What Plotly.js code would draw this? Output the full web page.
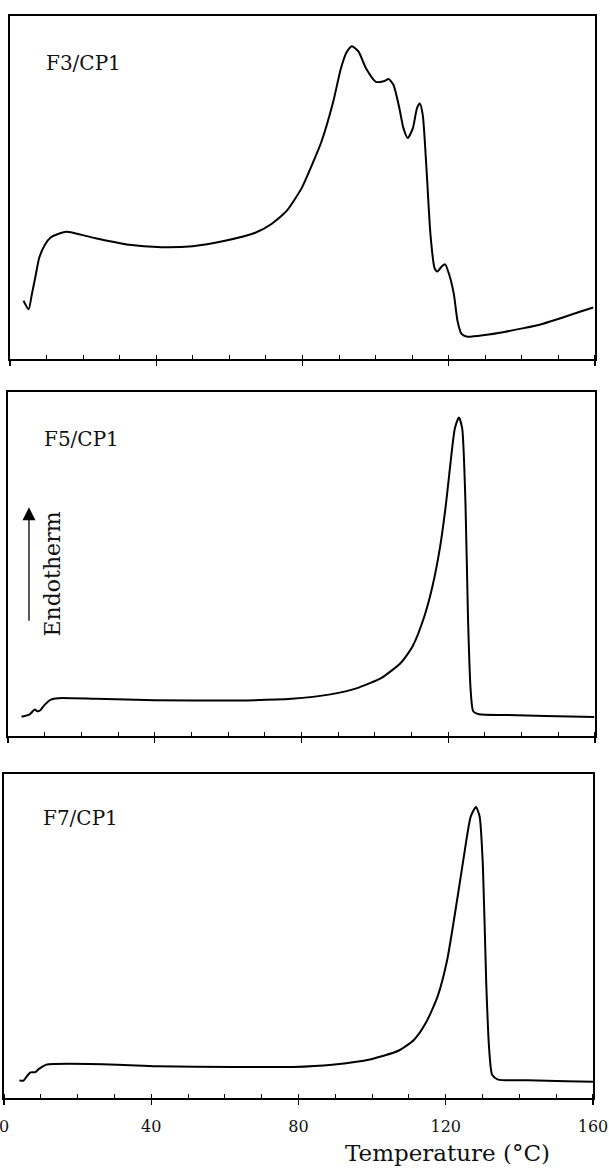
<!DOCTYPE html>
<html>
<head>
<meta charset="utf-8">
<script src="https://cdn.plot.ly/plotly-3.0.1.min.js"></script>
<style>html,body{margin:0;padding:0;background:#fff;}#chart{width:609px;height:1169px;}</style>
</head>
<body>
<div id="chart"></div>
<script>
// Temperature (°C) and relative heat-flow signal (arbitrary units, endotherm up)
const f3Temp = [3.7, 5.1, 6.0, 6.9, 8.0, 9.6, 11.2, 12.8, 15.4, 23.4, 31.9, 41.5, 50.0, 58.5, 67.1, 71.3, 75.6, 79.8, 83.0, 85.2, 88.4, 90.5, 92.1, 93.5, 95.3, 97.4, 100.1, 102.2, 103.6, 104.9, 106.5, 107.6, 108.8, 110.2, 111.3, 112.1, 112.9, 113.9, 115.0, 116.1, 116.9, 118.2, 119.0, 120.1, 121.4, 122.4, 123.5, 125.1, 129.9, 135.2, 140.5, 145.8, 151.2, 156.5, 159.5];
const f3Signal = [17.0, 14.5, 19.0, 23.7, 29.5, 33.4, 35.5, 36.3, 37.1, 35.2, 33.4, 32.6, 32.9, 34.4, 36.8, 39.2, 43.1, 49.9, 57.6, 63.4, 75.0, 84.7, 89.5, 91.2, 89.7, 84.7, 80.8, 81.0, 81.6, 79.9, 73.1, 67.3, 64.4, 67.3, 73.1, 74.5, 71.1, 55.7, 36.3, 26.6, 25.5, 27.1, 27.6, 24.7, 18.9, 11.1, 7.3, 6.5, 7.0, 7.9, 9.0, 10.3, 12.1, 14.0, 15.0];

const f5Temp = [3.7, 5.9, 7.3, 8.0, 8.8, 10.1, 11.7, 13.8, 24.0, 40.0, 61.3, 77.3, 87.9, 95.4, 101.8, 107.1, 110.3, 113.5, 115.7, 117.8, 119.4, 120.8, 121.8, 122.9, 123.8, 124.7, 125.4, 126.1, 126.8, 128.4, 135.9, 146.5, 159.8];
const f5Signal = [5.6, 6.3, 7.7, 7.2, 7.5, 9.2, 10.6, 11.0, 10.8, 10.4, 10.3, 10.8, 12.1, 14.0, 16.9, 21.3, 26.1, 34.8, 43.5, 55.1, 67.6, 81.2, 89.4, 92.6, 89.4, 67.6, 33.8, 13.5, 7.2, 6.3, 6.1, 5.8, 5.5];

const f7Temp = [4.2, 5.3, 6.2, 7.2, 8.5, 9.5, 11.5, 13.8, 30.8, 41.4, 62.6, 78.5, 89.1, 99.7, 107.1, 111.4, 114.6, 117.8, 120.4, 123.1, 125.2, 126.8, 128.2, 129.2, 130.1, 131.0, 131.8, 132.6, 134.2, 142.2, 152.8, 160.0];
const f7Signal = [5.4, 5.4, 6.7, 7.9, 8.0, 9.0, 10.3, 10.5, 10.3, 9.8, 9.6, 9.6, 10.3, 12.0, 14.6, 18.0, 23.2, 31.4, 42.7, 61.2, 76.6, 86.9, 89.8, 86.9, 71.4, 35.5, 15.0, 7.2, 5.7, 5.5, 5.2, 5.0];

const panelLabels = ["F3/CP1", "F5/CP1", "F7/CP1"];
const tickValues = [0, 40, 80, 120, 160];
const tickLabels = ["0", "40", "80", "120", "160"];
const xTitle = "Temperature (°C)";
const yTitle = "Endotherm";

const font = "DejaVu Serif, Liberation Serif, serif";
const lineStyle = {color: "#000", width: 2, shape: "spline", smoothing: 0.6};

const traces = [
  {x: f3Temp, y: f3Signal, xaxis: "x", yaxis: "y", mode: "lines", line: lineStyle, hoverinfo: "skip"},
  {x: f5Temp, y: f5Signal, xaxis: "x2", yaxis: "y2", mode: "lines", line: lineStyle, hoverinfo: "skip"},
  {x: f7Temp, y: f7Signal, xaxis: "x3", yaxis: "y3", mode: "lines", line: lineStyle, hoverinfo: "skip"}
];

function xAxis(domain, anchor, labels) {
  return {
    domain: domain, anchor: anchor, range: [0, 160],
    showgrid: false, zeroline: false,
    showline: true, linecolor: "#000", linewidth: 1.8, mirror: true,
    tickmode: "array", tickvals: tickValues, ticktext: tickLabels,
    ticks: "outside", ticklen: 5, tickwidth: 1.3, tickcolor: "#000",
    minor: {dtick: 10, ticks: "inside", ticklen: 4, tickwidth: 1, tickcolor: "#000", showgrid: false},
    showticklabels: labels, ticklabelstandoff: 8, ticklabeloverflow: "allow",
    tickfont: {family: font, size: 16, color: "#111"}
  };
}
function xOverlay(base, anchor) {
  return {
    overlaying: base, anchor: anchor, range: [0, 160],
    showgrid: false, zeroline: false, showline: false,
    tickmode: "array", tickvals: tickValues,
    ticks: "inside", ticklen: 5, tickwidth: 1.3, tickcolor: "#000",
    showticklabels: false
  };
}
function yAxis(domain, anchor) {
  return {
    domain: domain, anchor: anchor, range: [0, 100],
    showgrid: false, zeroline: false, showticklabels: false, ticks: "",
    showline: true, linecolor: "#000", linewidth: 1.8, mirror: true
  };
}

const labelFont = {family: font, size: 20, color: "#111"};
const layout = {
  width: 609, height: 1169,
  margin: {l: 0, r: 0, t: 0, b: 0},
  paper_bgcolor: "#fff", plot_bgcolor: "#fff",
  showlegend: false,
  font: {family: font, color: "#111"},
  xaxis: xAxis([0.0164, 0.9770], "y", false),
  yaxis: yAxis([0.6929, 0.9863], "x"),
  xaxis2: xAxis([0.0131, 0.9770], "y2", false),
  yaxis2: yAxis([0.3704, 0.6647], "x2"),
  xaxis3: xAxis([0.0066, 0.9737], "y3", true),
  yaxis3: yAxis([0.0607, 0.3379], "x3"),
  xaxis4: xOverlay("x", "y"),
  xaxis5: xOverlay("x2", "y2"),
  xaxis6: xOverlay("x3", "y3"),
  annotations: [
    {text: panelLabels[0], xref: "x domain", yref: "y domain", x: 0.058, y: 0.862, xanchor: "left", yanchor: "middle", showarrow: false, font: labelFont},
    {text: panelLabels[1], xref: "x2 domain", yref: "y2 domain", x: 0.058, y: 0.862, xanchor: "left", yanchor: "middle", showarrow: false, font: labelFont},
    {text: panelLabels[2], xref: "x3 domain", yref: "y3 domain", x: 0.063, y: 0.864, xanchor: "left", yanchor: "middle", showarrow: false, font: labelFont},
    {text: yTitle, xref: "paper", yref: "paper", x: 0.0878, y: 0.509, textangle: -90, xanchor: "center", yanchor: "middle", showarrow: false, font: {family: font, size: 22, color: "#111"}},
    {text: "", xref: "paper", yref: "paper", x: 0.0476, y: 0.566, ax: 0, ay: 115, showarrow: true, arrowhead: 2, arrowsize: 2, arrowwidth: 1.3, arrowcolor: "#000"},
    {text: xTitle, xref: "paper", yref: "paper", x: 0.735, y: 0.0137, xanchor: "center", yanchor: "middle", showarrow: false, font: {family: font, size: 23, color: "#111"}}
  ]
};

Plotly.newPlot("chart", traces, layout, {staticPlot: true, displayModeBar: false});
</script>
</body>
</html>
